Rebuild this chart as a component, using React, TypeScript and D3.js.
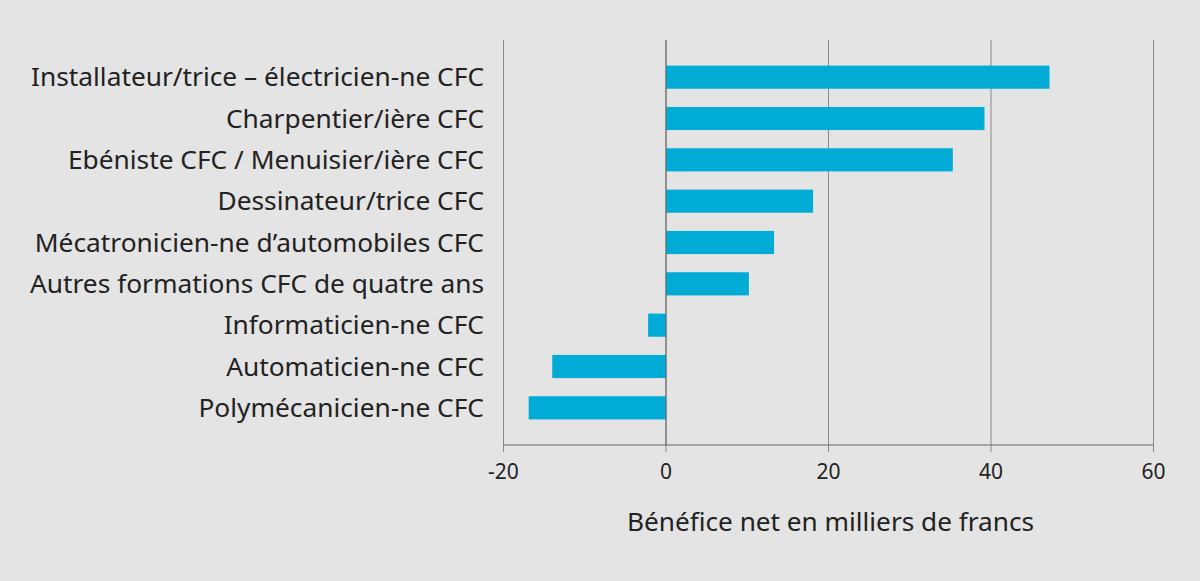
import React, { useEffect, useRef } from "react";
import * as d3 from "d3";

const categories = [
  "Installateur/trice – électricien-ne CFC",
  "Charpentier/ière CFC",
  "Ebéniste CFC / Menuisier/ière CFC",
  "Dessinateur/trice CFC",
  "Mécatronicien-ne d’automobiles CFC",
  "Autres formations CFC de quatre ans",
  "Informaticien-ne CFC",
  "Automaticien-ne CFC",
  "Polymécanicien-ne CFC",
];
const values = [47.2, 39.2, 35.3, 18.1, 13.3, 10.2, -2.2, -14.0, -16.9];
const xTicks = [-20, 0, 20, 40, 60];
const axisTitle = "Bénéfice net en milliers de francs";

const W = 1200;
const H = 581;
const FONT = "'Noto Sans', 'Open Sans', sans-serif";

export default function App() {
  const ref = useRef<SVGSVGElement>(null);

  useEffect(() => {
    document.body.style.margin = "0";
    document.body.style.background = "#e4e4e4";

    const svg = d3.select(ref.current);
    svg.selectAll("*").remove();

    svg.append("rect").attr("width", W).attr("height", H).attr("fill", "#e4e4e4");

    const x = d3.scaleLinear().domain([-20, 60]).range([503.5, 1153.5]);
    const y = d3
      .scaleBand()
      .domain(categories)
      .range([56.5, 428.5])
      .paddingInner(0.44)
      .paddingOuter(0.22);

    const top = 40;
    const bottom = 445;

    // gridlines
    svg
      .append("g")
      .selectAll("line")
      .data(xTicks)
      .enter()
      .append("line")
      .attr("x1", (d) => x(d))
      .attr("x2", (d) => x(d))
      .attr("y1", top)
      .attr("y2", bottom + 7)
      .attr("stroke", "#8a8a8a")
      .attr("stroke-width", 1);

    // bars
    svg
      .append("g")
      .selectAll("rect")
      .data(values)
      .enter()
      .append("rect")
      .attr("x", (d) => x(Math.min(0, d)))
      .attr("width", (d) => Math.abs(x(d) - x(0)))
      .attr("y", (_, i) => y(categories[i])!)
      .attr("height", y.bandwidth())
      .attr("fill", "#00acd5");

    // zero line over bars
    svg
      .append("line")
      .attr("x1", x(0))
      .attr("x2", x(0))
      .attr("y1", top)
      .attr("y2", bottom)
      .attr("stroke", "#666")
      .attr("stroke-width", 1);

    // axis line
    svg
      .append("line")
      .attr("x1", x(-20))
      .attr("x2", x(60))
      .attr("y1", bottom)
      .attr("y2", bottom)
      .attr("stroke", "#666")
      .attr("stroke-width", 1.2);

    // tick labels
    svg
      .append("g")
      .selectAll("text")
      .data(xTicks)
      .enter()
      .append("text")
      .attr("x", (d) => x(d))
      .attr("y", 479)
      .attr("text-anchor", "middle")
      .attr("font-family", FONT)
      .attr("font-size", 21)
      .attr("fill", "#222")
      .text((d) => String(d));

    // category labels
    svg
      .append("g")
      .selectAll("text")
      .data(categories)
      .enter()
      .append("text")
      .attr("x", 484)
      .attr("y", (d) => y(d)! + y.bandwidth() / 2)
      .attr("dy", "0.35em")
      .attr("text-anchor", "end")
      .attr("font-family", FONT)
      .attr("font-size", 26.3)
      .attr("fill", "#222")
      .text((d) => d);

    svg
      .append("text")
      .attr("x", (x(-20) + x(60)) / 2 + 2)
      .attr("y", 531)
      .attr("text-anchor", "middle")
      .attr("font-family", FONT)
      .attr("font-size", 26.2)
      .attr("fill", "#222")
      .text(axisTitle);
  }, []);

  return <svg ref={ref} width={W} height={H} style={{ display: "block" }} />;
}
